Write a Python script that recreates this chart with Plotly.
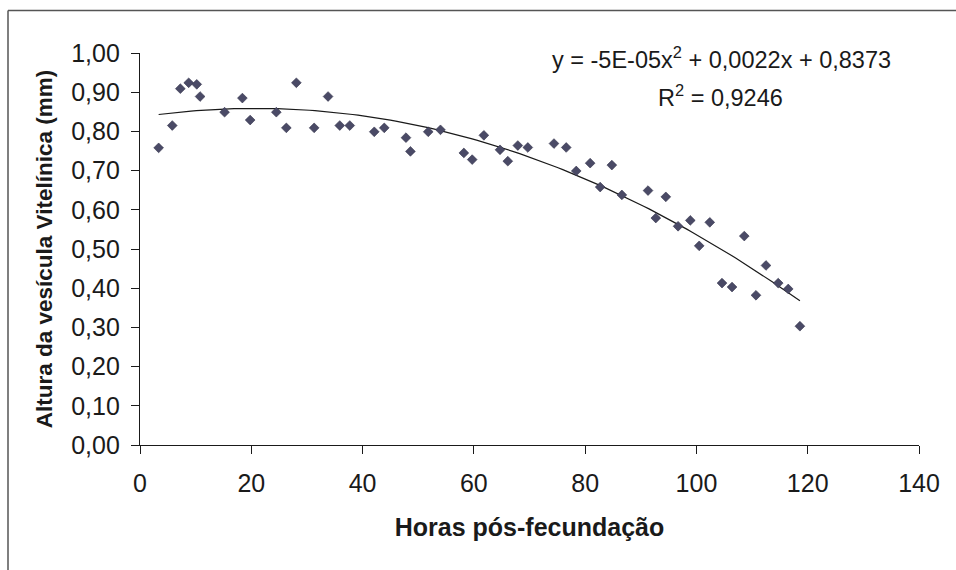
import numpy as np
import plotly.graph_objects as go

# Data
horas = [3.35, 5.8, 7.25, 8.75, 10.2, 10.8, 15.2, 18.4, 19.8, 24.5, 26.3, 28.1, 31.3,
         33.8, 35.9, 37.7, 42.1, 43.9, 47.8, 48.6, 51.8, 54.0, 58.2, 59.7, 61.8,
         64.7, 66.1, 67.9, 69.7, 74.4, 76.6, 78.4, 80.9, 82.7, 84.8, 86.6, 91.3,
         92.7, 94.5, 96.7, 98.9, 100.5, 102.4, 104.6, 106.4, 108.6, 110.7, 112.5,
         114.7, 116.5, 118.6]
altura = [0.758, 0.815, 0.909, 0.924, 0.920, 0.889, 0.849, 0.885, 0.829, 0.849, 0.809,
          0.924, 0.809, 0.889, 0.815, 0.815, 0.799, 0.809, 0.784, 0.749, 0.799, 0.804,
          0.745, 0.728, 0.790, 0.753, 0.724, 0.764, 0.759, 0.769, 0.759, 0.699, 0.719,
          0.658, 0.714, 0.638, 0.649, 0.579, 0.633, 0.558, 0.573, 0.508, 0.568, 0.413,
          0.403, 0.533, 0.382, 0.458, 0.413, 0.398, 0.303]

x_ticks = [0, 20, 40, 60, 80, 100, 120, 140]
y_ticks = [0.0, 0.1, 0.2, 0.3, 0.4, 0.5, 0.6, 0.7, 0.8, 0.9, 1.0]
y_tick_labels = ["0,00", "0,10", "0,20", "0,30", "0,40", "0,50", "0,60", "0,70",
                 "0,80", "0,90", "1,00"]

equacao = "y = -5E-05x<sup>2</sup> + 0,0022x + 0,8373"
r2_texto = "R<sup>2</sup> = 0,9246"

# Polynomial (order 2) trend line fitted to the data
coef = np.polyfit(horas, altura, 2)
xt = np.linspace(min(horas), max(horas), 120)
yt = np.polyval(coef, xt)

FONT = "Liberation Sans, Arial, sans-serif"

fig = go.Figure()
fig.add_trace(go.Scatter(
    x=xt, y=yt, mode="lines",
    line=dict(color="#1a1a1a", width=1.2),
    hoverinfo="skip", showlegend=False))
fig.add_trace(go.Scatter(
    x=horas, y=altura, mode="markers",
    marker=dict(symbol="diamond", size=7.5, color="#4a4a66",
                line=dict(color="#33334a", width=0.6)),
    showlegend=False))

fig.update_layout(
    width=956, height=570,
    margin=dict(l=140, r=37, t=53, b=124.5),
    paper_bgcolor="white", plot_bgcolor="white",
    font=dict(family=FONT, color="#1a1a1a", size=25),
    xaxis=dict(
        range=[0, 140], tickvals=x_ticks, ticktext=[str(v) for v in x_ticks],
        showgrid=False, zeroline=False, showline=True, linecolor="#1a1a1a",
        linewidth=1.2, ticks="outside", ticklen=8, tickcolor="#1a1a1a",
        tickwidth=1, tickfont=dict(size=25, family=FONT), ticklabelstandoff=8,
        title=dict(text="<b>Horas pós-fecundação</b>", font=dict(size=25, family=FONT),
                   standoff=22)),
    yaxis=dict(
        range=[0, 1.0], tickvals=y_ticks, ticktext=y_tick_labels,
        showgrid=False, zeroline=False, showline=True, linecolor="#1a1a1a",
        linewidth=1.2, ticks="outside", ticklen=8, tickcolor="#1a1a1a",
        tickwidth=1, tickfont=dict(size=25, family=FONT), ticklabelstandoff=6,
        title=dict(text="<b>Altura da vesícula Vitelínica (mm)</b>",
                   font=dict(size=22.5, family=FONT), standoff=12)),
    annotations=[
        dict(text=equacao, xref="paper", yref="paper",
             x=(721 - 140) / 779, y=(445.5 - 58) / 392.8, showarrow=False,
             xanchor="center", yanchor="middle", font=dict(size=23.5, family=FONT)),
        dict(text=r2_texto, xref="paper", yref="paper",
             x=(720 - 140) / 779, y=(445.5 - 96) / 392.8, showarrow=False,
             xanchor="center", yanchor="middle", font=dict(size=23.5, family=FONT)),
    ],
    shapes=[
        dict(type="line", xref="paper", yref="paper",
             x0=(8 - 140) / 779, x1=(8 - 140) / 779,
             y0=(445.5 - 580) / 392.8, y1=(445.5 - 10) / 392.8,
             line=dict(color="#555555", width=1.5)),
        dict(type="line", xref="paper", yref="paper",
             x0=(8 - 140) / 779, x1=(970 - 140) / 779,
             y0=(445.5 - 10) / 392.8, y1=(445.5 - 10) / 392.8,
             line=dict(color="#555555", width=1.5)),
    ],
)

fig.write_html("out.html", config={"displayModeBar": False},
               post_script="document.body.style.margin='0';")
